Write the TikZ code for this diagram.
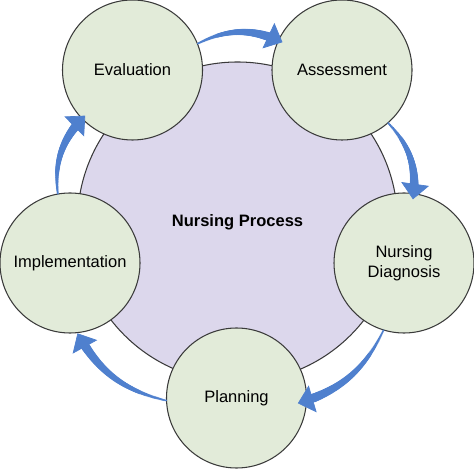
\documentclass[tikz,border=0pt]{standalone}
\usepackage{fontspec}
\setmainfont{Liberation Sans}
\usetikzlibrary{arrows.meta, calc, decorations.markings}
\definecolor{stagegreen}{HTML}{E2EBD9}
\definecolor{corelilac}{HTML}{DCD7EC}
\definecolor{flowblue}{HTML}{4F80CE}
\definecolor{rimgray}{HTML}{3A3A3A}
\tikzset{
    stage/.style={shape=circle, draw=rimgray, line width=0.6pt, fill=stagegreen,
        minimum size=2.8cm, inner sep=0pt, align=center,
        font=\fontsize{9.4}{11.3}\selectfont},
    core/.style={shape=circle, draw=rimgray, line width=0.6pt, fill=corelilac,
        minimum size=6.4cm, inner sep=0pt, font=\fontsize{9.4}{11.3}\selectfont\bfseries},
    % tapered blue arrow along the cycle
    flowarrow/.style={decoration={markings,
        mark=between positions 0 and 0.86 step 0.01 with {\fill[flowblue] (0,0)
            circle ({0.2mm+0.7mm*\pgfkeysvalueof{/pgf/decoration/mark info/sequence number}/86});},
        mark=at position 1 with {\arrow[flowblue]{Triangle[width=5.6mm, length=3.1mm]}}},
        postaction={decorate}}}

\begin{document}
\begin{tikzpicture}
    \useasboundingbox (0,0) rectangle (9.48,9.36);

    \node[core] (core) at (4.75,4.92) {Nursing Process};

    \node[stage] (eval) at (2.65,7.96) {Evaluation};
    \node[stage] (assess) at (6.84,7.96) {Assessment};
    \node[stage] (diag) at (8.08,4.10) {Nursing\\Diagnosis};
    \node[stage] (plan) at (4.73,1.40) {Planning};
    \node[stage] (impl) at (1.40,4.10) {Implementation};

    \path[flowarrow] (eval.22) to[bend left=26] ($(assess.center)!0.93!(assess.155)$);
    \path[flowarrow] (assess.-49) to[bend left=26] ($(diag.center)!0.91!(diag.82)$);
    \path[flowarrow] (diag.-107) to[bend left=24] ($(plan.center)!0.87!(plan.-5)$);
    \path[flowarrow] (plan.182) to[bend left=24] (impl.-84);
    \path[flowarrow] (impl.100) to[bend left=26] ($(eval.center)!0.93!(eval.224)$);

\end{tikzpicture}
\end{document}
